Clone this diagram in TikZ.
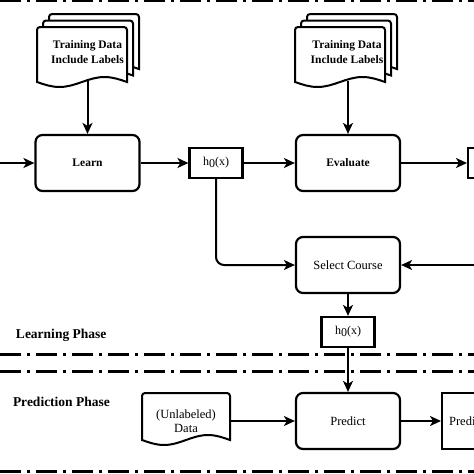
\documentclass[tikz,border=0pt]{standalone}
\usepackage{fontspec}
\setmainfont{Liberation Serif}
\usetikzlibrary{arrows.meta}
\newcommand{\docpage}[4]{\filldraw[sheet] (#1,#2+#4) [rounded corners=3pt] -- (#1,#2) -- (#1+#3,#2) [sharp corners] -- (#1+#3,#2+#4) sin (#1+0.75*#3,#2+#4-5) cos (#1+0.5*#3,#2+#4) sin (#1+0.25*#3,#2+#4+5) cos (#1,#2+#4) -- cycle;}
\begin{document}
\begin{tikzpicture}[>={Stealth[length=11pt,width=10pt,inset=3pt]},x=1pt,y=-1pt,line width=2pt,
  box/.style={draw,rounded corners=7pt,minimum width=104pt,minimum height=56pt,line width=2.2pt},
  hbox/.style={draw,minimum width=53pt,minimum height=30pt,line width=2.2pt,font=\fontsize{12}{14}\selectfont},
  sheet/.style={fill=white,draw,line width=2pt},
  docnote/.style={align=center,font=\bfseries\fontsize{11.5}{15}\selectfont},
  phase/.style={anchor=west,inner sep=0pt,font=\bfseries\fontsize{13.5}{16}\selectfont},
  phaseline/.style={line width=3pt,dash pattern=on 21pt off 6pt on 3pt off 6pt}]
\useasboundingbox (0,0) rectangle (474,474);
\clip (0,0) rectangle (474,474);
\draw[phaseline] (0,0.5) -- (474,0.5);
\draw[phaseline] (0,354) -- (474,354);
\draw[phaseline] (0,371) -- (474,371);
\draw[phaseline] (0,471) -- (474,471);
\foreach \s in {12,6,0} {\docpage{37+\s}{27-1.08*\s}{90}{55} \docpage{295+\s}{27-1.08*\s}{90}{55}}
\docpage{142}{393}{88}{47}
\node[docnote,minimum height=56pt] (dataA) at (87.5,52) {Training Data\\Include Labels};
\node[docnote,minimum height=56pt] (dataB) at (347,52) {Training Data\\Include Labels};
\node[align=center,minimum width=88pt,font=\fontsize{12.5}{14}\selectfont] (dataU) at (186,421) {(Unlabeled)\\Data};
\node[box,font=\bfseries\fontsize{11.5}{14}\selectfont] (learn) at (87.5,163) {Learn};
\node[box,font=\bfseries\fontsize{11.5}{14}\selectfont] (evaluate) at (348,163) {Evaluate};
\node[hbox] (hA) at (216,163) {h\raisebox{-1.5pt}{0}(x)};
\node[hbox,anchor=west] (hout) at (467,163) {};
\node[box,font=\fontsize{12.5}{14}\selectfont] (select) at (348,265) {Select Course};
\node[hbox] (hB) at (348,332) {h\raisebox{-1.5pt}{0}(x)};
\node[box,font=\fontsize{12.5}{14}\selectfont] (predict) at (348,421) {Predict};
\node[draw,line width=2.2pt,inner sep=7pt,minimum height=56pt,anchor=west,font=\fontsize{12.5}{14}\selectfont] (predout) at (441,421) {Prediction};
\node[phase] (learnph) at (15,335) {Learning Phase};
\node[phase] (predph) at (12,402) {Prediction Phase};
\coordinate (inL) at (0,163);
\coordinate (inR) at (474,265);
\draw[->] (inL) -- (learn);
\draw[->] (dataA.south) -- (learn.north);
\draw[->] (learn) -- (hA);
\draw[->] (hA) -- (evaluate);
\draw[->] (evaluate) -- (hout);
\draw[->] (evaluate.north |- dataB.south) -- (evaluate.north);
\draw[->,rounded corners=8pt] (hA) |- (select);
\draw[->] (inR) -- (select);
\draw[->] (select) -- (hB);
\draw[->] (hB) -- (predict);
\draw[->] (dataU) -- (predict);
\draw[->] (predict) -- (predout);
\end{tikzpicture}
\end{document}
